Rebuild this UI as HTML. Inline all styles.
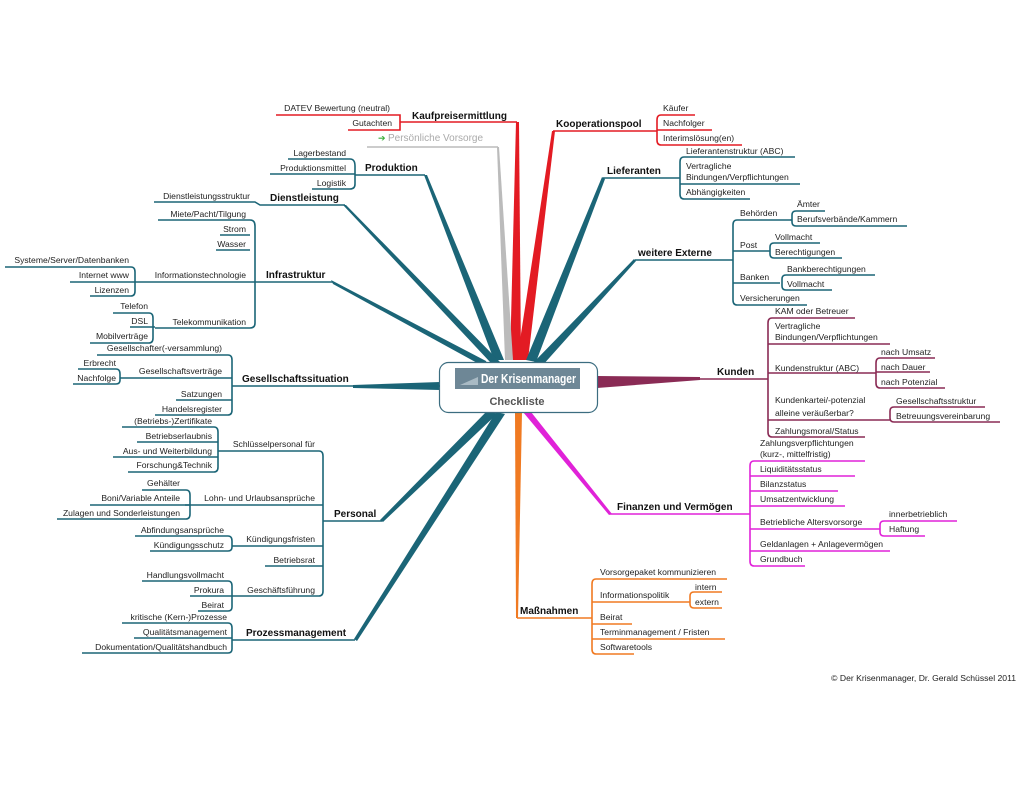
<!DOCTYPE html>
<html><head><meta charset="utf-8"><style>
html,body{margin:0;padding:0;background:#fff}
svg{display:block}
text{font-family:"Liberation Sans",sans-serif;font-size:8.6px;fill:#222}
.b{font-size:10px;font-weight:bold;fill:#111}
.e{text-anchor:end}
.tl{stroke:#1b6577;fill:none;stroke-width:1.6}
.rd{stroke:#e31b23;fill:none;stroke-width:1.6}
.mr{stroke:#8a2b55;fill:none;stroke-width:1.6}
.mg{stroke:#e022d8;fill:none;stroke-width:1.6}
.or{stroke:#f07a22;fill:none;stroke-width:1.6}
</style></head><body>
<svg width="1024" height="786" viewBox="0 0 1024 786" xmlns="http://www.w3.org/2000/svg">
<!-- spokes -->
<g stroke-linecap="round">
<polygon points="516,122 519,122 521,360 510,360" fill="#e31b23"/>
<polygon points="497,147 499,147 513,360 505,360" fill="#bbbbbb"/>
<polygon points="424,175 427,175 504,360 494,360" fill="#1b6577"/>
<polygon points="343,205 346,205 500,362 490,362" fill="#1b6577"/>
<polygon points="331,280 333,284 490,370 486,361" fill="#1b6577"/>
<polygon points="353,385 353,388 440,390 440,382" fill="#1b6577"/>
<polygon points="380,520 383,522 497,414 488,410" fill="#1b6577"/>
<polygon points="354,639 357,641 505,414 496,412" fill="#1b6577"/>
<polygon points="552,131 555,131 528,360 517,360" fill="#e31b23"/>
<polygon points="602,177 605,179 536,362 526,360" fill="#1b6577"/>
<polygon points="634,259 636,261 542,366 534,362" fill="#1b6577"/>
<polygon points="597,376 700,377 700,380 597,388" fill="#8a2b55"/>
<polygon points="523,412 531,412 612,514 609,515" fill="#e022d8"/>
<polygon points="515,412 522,412 518,618 516,618" fill="#f07a22"/>
</g>
<!-- center box -->
<rect x="439.5" y="362.5" width="158" height="50" rx="9" fill="#fff" stroke="#3c6d80" stroke-width="1.2"/>
<rect x="455" y="368" width="125" height="21" fill="#6e8796"/>
<path d="M460 385 L478 377 L478 385 Z" fill="#a9bac4"/>
<text x="481" y="383" textLength="95" lengthAdjust="spacingAndGlyphs" style="font-size:12.5px;font-weight:bold;fill:#fff">Der Krisenmanager</text>
<text x="517" y="405" style="font-size:11px;font-weight:bold;fill:#555;text-anchor:middle">Checkliste</text>

<!-- Kaufpreisermittlung -->
<g class="rd"><path d="M400 122 H517"/><path d="M276 115 H400 V130 H348"/></g>
<text class="b" x="412" y="119">Kaufpreisermittlung</text>
<text class="e" x="390" y="111">DATEV Bewertung (neutral)</text>
<text class="e" x="392" y="126">Gutachten</text>
<!-- Persönliche Vorsorge -->
<path d="M367 147 H498" stroke="#bbb" stroke-width="1.6"/>
<text x="378" y="141" style="fill:#3dae3d;font-size:9px">➔</text>
<text x="388" y="141" style="font-size:10px;fill:#aaa">Persönliche Vorsorge</text>
<!-- Produktion -->
<g class="tl"><path d="M355 175 H425"/><path d="M288 159 H350 Q355 159 355 166 V184 Q355 189 350 189 H312"/><path d="M270 174 H355"/></g>
<text class="b" x="365" y="171">Produktion</text>
<text class="e" x="346" y="156">Lagerbestand</text>
<text class="e" x="346" y="171">Produktionsmittel</text>
<text class="e" x="346" y="186">Logistik</text>
<!-- Dienstleistung -->
<g class="tl"><path d="M154 202 H255 L260 205 H345"/></g>
<text class="b" x="270" y="201">Dienstleistung</text>
<text class="e" x="250" y="199">Dienstleistungsstruktur</text>
<!-- Infrastruktur -->
<g class="tl"><path d="M140 282 H333"/><path d="M158 220 H250 Q255 220 255 226 V323 Q255 328 250 328 H155"/><path d="M220 235 H250"/><path d="M216 250 H250"/>
<path d="M5 267 H131 Q135 267 135 272 V291 Q135 296 131 296 H90"/><path d="M70 282 H140"/>
<path d="M113 313 H149 Q153 313 153 318 V338 Q153 343 149 343 H90"/><path d="M130 327 H155"/></g>
<text class="b" x="266" y="278">Infrastruktur</text>
<text class="e" x="246" y="217">Miete/Pacht/Tilgung</text>
<text class="e" x="246" y="232">Strom</text>
<text class="e" x="246" y="247">Wasser</text>
<text class="e" x="246" y="278">Informationstechnologie</text>
<text class="e" x="129" y="263">Systeme/Server/Datenbanken</text>
<text class="e" x="129" y="278">Internet www</text>
<text class="e" x="129" y="293">Lizenzen</text>
<text class="e" x="246" y="325">Telekommunikation</text>
<text class="e" x="148" y="309">Telefon</text>
<text class="e" x="148" y="324">DSL</text>
<text class="e" x="148" y="339">Mobilverträge</text>
<!-- Gesellschaftssituation -->
<g class="tl"><path d="M232 386 H440"/><path d="M97 355 H228 Q232 355 232 360 V410 Q232 415 228 415 H155"/><path d="M120 378 H232"/><path d="M176 400 H232"/>
<path d="M78 369 H116 Q120 369 120 374 V380 Q120 384 116 384 H73"/></g>
<text class="b" x="242" y="382">Gesellschaftssituation</text>
<text class="e" x="222" y="351">Gesellschafter(-versammlung)</text>
<text class="e" x="222" y="374">Gesellschaftsverträge</text>
<text class="e" x="116" y="366">Erbrecht</text>
<text class="e" x="116" y="381">Nachfolge</text>
<text class="e" x="222" y="397">Satzungen</text>
<text class="e" x="222" y="412">Handelsregister</text>
<!-- Personal -->
<g class="tl"><path d="M323 521 H382"/><path d="M218 451 H319 Q323 451 323 456 V591 Q323 596 319 596 H232"/>
<path d="M122 427 H214 Q218 427 218 432 V467 Q218 472 214 472 H128"/><path d="M137 442 H218"/><path d="M113 457 H218"/>
<path d="M185 505 H323"/><path d="M142 490 H186 Q190 490 190 495 V514 Q190 519 186 519 H57"/><path d="M90 505 H190"/>
<path d="M232 546 H323"/><path d="M135 536 H228 Q232 536 232 541 V547 Q232 551 228 551 H150"/>
<path d="M265 566 H323"/>
<path d="M142 581 H228 Q232 581 232 586 V607 Q232 611 228 611 H198"/><path d="M190 596 H232"/></g>
<text class="b" x="334" y="517">Personal</text>
<text class="e" x="315" y="447">Schlüsselpersonal für</text>
<text class="e" x="212" y="424">(Betriebs-)Zertifikate</text>
<text class="e" x="212" y="439">Betriebserlaubnis</text>
<text class="e" x="212" y="454">Aus- und Weiterbildung</text>
<text class="e" x="212" y="468">Forschung&amp;Technik</text>
<text class="e" x="315" y="501">Lohn- und Urlaubsansprüche</text>
<text class="e" x="180" y="486">Gehälter</text>
<text class="e" x="180" y="501">Boni/Variable Anteile</text>
<text class="e" x="180" y="516">Zulagen und Sonderleistungen</text>
<text class="e" x="315" y="542">Kündigungsfristen</text>
<text class="e" x="224" y="533">Abfindungsansprüche</text>
<text class="e" x="224" y="548">Kündigungsschutz</text>
<text class="e" x="315" y="563">Betriebsrat</text>
<text class="e" x="315" y="593">Geschäftsführung</text>
<text class="e" x="224" y="578">Handlungsvollmacht</text>
<text class="e" x="224" y="593">Prokura</text>
<text class="e" x="224" y="608">Beirat</text>
<!-- Prozessmanagement -->
<g class="tl"><path d="M232 640 H355"/><path d="M122 623 H228 Q232 623 232 628 V649 Q232 653 228 653 H82"/><path d="M134 638 H232"/></g>
<text class="b" x="246" y="636">Prozessmanagement</text>
<text class="e" x="227" y="620">kritische (Kern-)Prozesse</text>
<text class="e" x="227" y="635">Qualitätsmanagement</text>
<text class="e" x="227" y="650">Dokumentation/Qualitätshandbuch</text>

<!-- Kooperationspool -->
<g class="rd"><path d="M553 131 H657"/><path d="M695 115 H661 Q657 115 657 120 V140 Q657 145 661 145 H742"/><path d="M657 130 H712"/></g>
<text class="b" x="556" y="127">Kooperationspool</text>
<text x="663" y="111">Käufer</text>
<text x="663" y="126">Nachfolger</text>
<text x="663" y="141">Interimslösung(en)</text>
<!-- Lieferanten -->
<g class="tl"><path d="M603 178 H680"/><path d="M795 157 H684 Q680 157 680 162 V194 Q680 199 684 199 H750"/><path d="M680 184 H800"/></g>
<text class="b" x="607" y="174">Lieferanten</text>
<text x="686" y="154">Lieferantenstruktur (ABC)</text>
<text x="686" y="169">Vertragliche</text>
<text x="686" y="180">Bindungen/Verpflichtungen</text>
<text x="686" y="195">Abhängigkeiten</text>
<!-- weitere Externe -->
<g class="tl"><path d="M635 260 H733"/><path d="M790 220 H737 Q733 220 733 225 V300 Q733 305 737 305 H807"/><path d="M733 251 H770"/><path d="M733 283 H780"/>
<path d="M825 211 H796 Q792 211 792 215 V222 Q792 226 796 226 H907"/><path d="M790 220 H792"/>
<path d="M820 243 H774 Q770 243 770 247 V254 Q770 258 774 258 H842"/>
<path d="M875 275 H786 Q782 275 782 279 V286 Q782 290 786 290 H832"/></g>
<text class="b" x="638" y="256">weitere Externe</text>
<text x="740" y="216">Behörden</text>
<text x="797" y="207">Ämter</text>
<text x="797" y="222">Berufsverbände/Kammern</text>
<text x="740" y="248">Post</text>
<text x="775" y="240">Vollmacht</text>
<text x="775" y="255">Berechtigungen</text>
<text x="740" y="280">Banken</text>
<text x="787" y="272">Bankberechtigungen</text>
<text x="787" y="287">Vollmacht</text>
<text x="740" y="301">Versicherungen</text>
<!-- Kunden -->
<g class="mr"><path d="M700 379 H768"/><path d="M855 318 H772 Q768 318 768 323 V432 Q768 437 772 437 H865"/><path d="M768 344 H890"/><path d="M768 373 H876"/><path d="M768 420 H890"/>
<path d="M935 358 H880 Q876 358 876 363 V383 Q876 388 880 388 H945"/><path d="M876 372 H930"/>
<path d="M985 407 H894 Q890 407 890 411 V418 Q890 422 894 422 H1000"/></g>
<text class="b" x="717" y="375">Kunden</text>
<text x="775" y="314">KAM oder Betreuer</text>
<text x="775" y="329">Vertragliche</text>
<text x="775" y="340">Bindungen/Verpflichtungen</text>
<text x="775" y="371">Kundenstruktur (ABC)</text>
<text x="881" y="355">nach Umsatz</text>
<text x="881" y="370">nach Dauer</text>
<text x="881" y="385">nach Potenzial</text>
<text x="775" y="403">Kundenkartei/-potenzial</text>
<text x="775" y="416">alleine veräußerbar?</text>
<text x="896" y="404">Gesellschaftsstruktur</text>
<text x="896" y="419">Betreuungsvereinbarung</text>
<text x="775" y="434">Zahlungsmoral/Status</text>
<!-- Finanzen -->
<g class="mg"><path d="M610 514 H750"/><path d="M865 461 H754 Q750 461 750 466 V561 Q750 566 754 566 H805"/><path d="M750 476 H855"/><path d="M750 491 H838"/><path d="M750 506 H845"/><path d="M750 529 H880"/><path d="M750 551 H890"/>
<path d="M957 521 H884 Q880 521 880 525 V532 Q880 536 884 536 H925"/></g>
<text class="b" x="617" y="510">Finanzen und Vermögen</text>
<text x="760" y="446">Zahlungsverpflichtungen</text>
<text x="760" y="457">(kurz-, mittelfristig)</text>
<text x="760" y="472">Liquiditätsstatus</text>
<text x="760" y="487">Bilanzstatus</text>
<text x="760" y="502">Umsatzentwicklung</text>
<text x="760" y="525">Betriebliche Altersvorsorge</text>
<text x="889" y="517">innerbetrieblich</text>
<text x="889" y="532">Haftung</text>
<text x="760" y="547">Geldanlagen + Anlagevermögen</text>
<text x="760" y="562">Grundbuch</text>
<!-- Maßnahmen -->
<g class="or"><path d="M517 618 H592"/><path d="M727 579 H596 Q592 579 592 584 V649 Q592 654 596 654 H634"/><path d="M592 602 H690"/><path d="M592 624 H632"/><path d="M592 639 H725"/>
<path d="M722 592 H694 Q690 592 690 596 V604 Q690 608 694 608 H722"/></g>
<text class="b" x="520" y="614">Maßnahmen</text>
<text x="600" y="575">Vorsorgepaket kommunizieren</text>
<text x="600" y="598">Informationspolitik</text>
<text x="695" y="590">intern</text>
<text x="695" y="605">extern</text>
<text x="600" y="620">Beirat</text>
<text x="600" y="635">Terminmanagement / Fristen</text>
<text x="600" y="650">Softwaretools</text>

<text x="1016" y="681" style="text-anchor:end;font-size:8.6px">© Der Krisenmanager, Dr. Gerald Schüssel 2011</text>
</svg>
</body></html>
